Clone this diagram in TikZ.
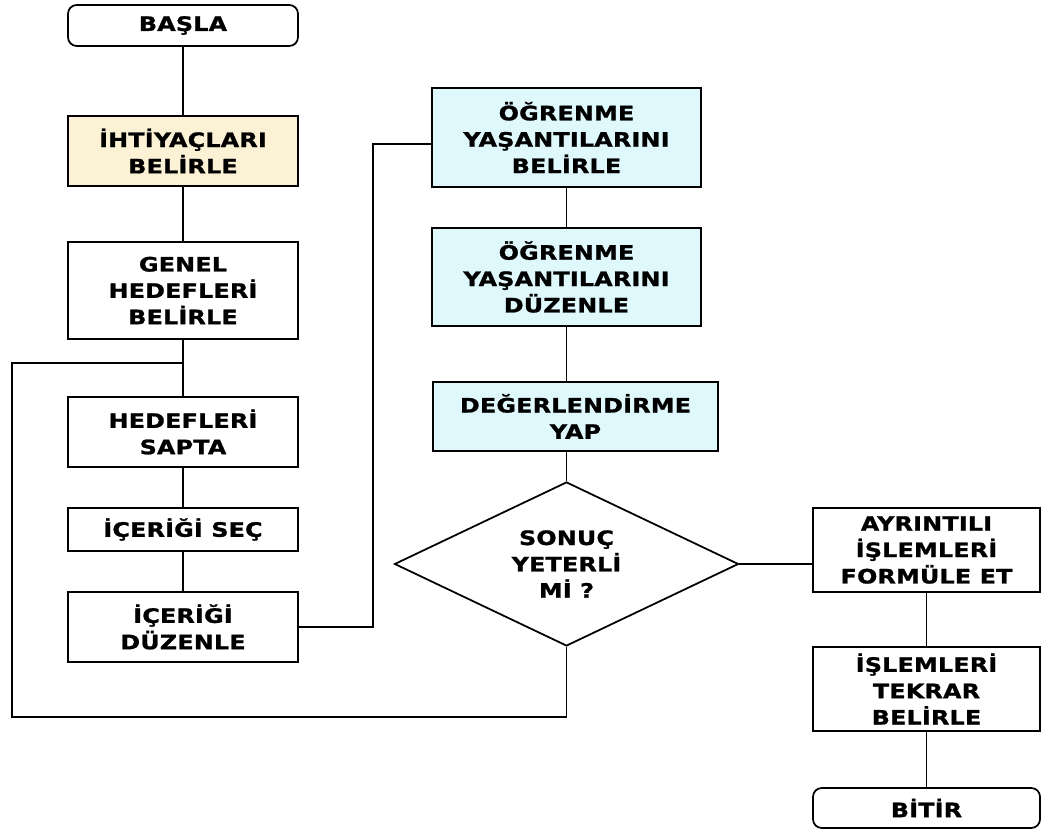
\documentclass[tikz,border=0pt]{standalone}
\usepackage{fontspec}
\newfontfamily\boxfont{DejaVu Sans}[FakeStretch=1.2,FakeBold=1.2,LetterSpace=1]
\usetikzlibrary{shapes.geometric, positioning}
\definecolor{needfill}{RGB}{251,242,214}
\definecolor{learnfill}{RGB}{222,248,252}

\begin{document}
\begin{tikzpicture}[
        line width=1pt,
        every node/.style={font=\boxfont\bfseries\fontsize{11.3}{15}\selectfont, align=center},
        stepbox/.style={draw, rectangle, fill=white, inner sep=2pt},
        endbox/.style={stepbox, rounded corners=5pt},
        learnbox/.style={stepbox, fill=learnfill},
        choice/.style={draw, diamond, fill=white, inner sep=0pt, aspect=2.1}
    ]
    \useasboundingbox (0,0) rectangle (20.82,16.58);

    % Left column
    \node[endbox, minimum width=4.6cm, minimum height=0.82cm] (start) at (3.66, 16.07) {BAŞLA};
    \node[stepbox, fill=needfill, minimum width=4.6cm, minimum height=1.4cm] (need) at (3.66, 13.56) {İHTİYAÇLARI\\BELİRLE};
    \node[stepbox, minimum width=4.6cm, minimum height=1.94cm] (genel) at (3.66, 10.77) {GENEL\\HEDEFLERİ\\BELİRLE};
    \coordinate (merge) at (3.66, 9.32);
    \node[stepbox, minimum width=4.6cm, minimum height=1.4cm] (sapta) at (3.66, 7.94) {HEDEFLERİ\\SAPTA};
    \node[stepbox, minimum width=4.6cm, minimum height=0.86cm] (sec) at (3.66, 5.99) {İÇERİĞİ SEÇ};
    \node[stepbox, minimum width=4.6cm, minimum height=1.4cm] (duzenle) at (3.66, 4.04) {İÇERİĞİ\\DÜZENLE};

    % Middle column
    \node[learnbox, minimum width=5.38cm, minimum height=1.98cm] (yasbel) at (11.33, 13.83) {ÖĞRENME\\YAŞANTILARINI\\BELİRLE};
    \node[learnbox, minimum width=5.38cm, minimum height=1.96cm] (yasduz) at (11.33, 11.04) {ÖĞRENME\\YAŞANTILARINI\\DÜZENLE};
    \node[learnbox, minimum width=5.7cm, minimum height=1.38cm] (eval) at (11.51, 8.25) {DEĞERLENDİRME\\YAP};
    \node[choice, minimum width=6.88cm, minimum height=3.28cm] (dec) at (11.33, 5.30) {SONUÇ\\YETERLİ\\ Mİ ?};

    % Right column
    \node[stepbox, minimum width=4.54cm, minimum height=1.68cm] (form) at (18.53, 5.58) {AYRINTILI\\İŞLEMLERİ\\FORMÜLE ET};
    \node[stepbox, minimum width=4.54cm, minimum height=1.68cm] (tekrar) at (18.53, 2.80) {İŞLEMLERİ\\TEKRAR\\BELİRLE};
    \node[endbox, minimum width=4.54cm, minimum height=0.8cm] (bitir) at (18.53, 0.42) {BİTİR};

    % Connectors
    \coordinate (jog) at (7.46, 13.70);
    \coordinate (loopbl) at (0.24, 2.24);
    \draw (start.south) -- (need.north);
    \draw (need.south) -- (genel.north);
    \draw (genel.south) -- (merge) -- (sapta.north);
    \draw (sapta.south) -- (sec.north);
    \draw (sec.south) -- (duzenle.north);
    \draw (duzenle.east) -| (jog) -- (jog -| yasbel.west);
    \draw (yasbel.south) -- (yasduz.north);
    \draw (yasduz.south) -- (yasduz.south |- eval.north);
    \draw (dec.north |- eval.south) -- (dec.north);
    \draw (dec.east) -- (dec.east -| form.west);
    \draw (form.south) -- (tekrar.north);
    \draw (tekrar.south) -- (bitir.north);
    \draw (dec.south) |- (loopbl) |- (merge);
\end{tikzpicture}
\end{document}
